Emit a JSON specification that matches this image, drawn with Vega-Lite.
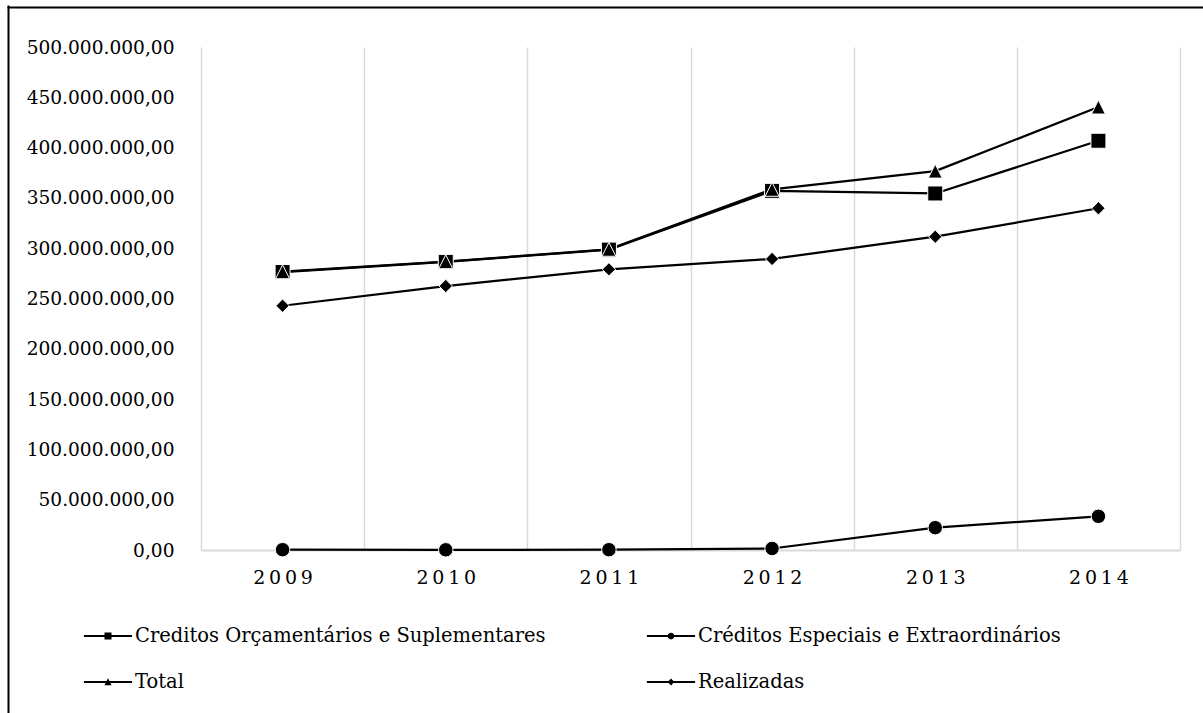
{
  "$schema": "https://vega.github.io/schema/vega-lite/v6.json",
  "width": 979,
  "height": 503,
  "autosize": {"type": "none"},
  "padding": {"left": 201, "top": 47, "right": 23, "bottom": 163},
  "background": "white",
  "config": {
    "font": "DejaVu Serif",
    "view": {"stroke": null},
    "locale": {
      "number": {"decimal": ",", "thousands": ".", "grouping": [3], "currency": ["R$ ", ""]}
    }
  },
  "data": {
    "values": [
      {"ano": "2009", "serie": "Creditos Orçamentários e Suplementares", "valor": 276300000},
      {"ano": "2010", "serie": "Creditos Orçamentários e Suplementares", "valor": 286400000},
      {"ano": "2011", "serie": "Creditos Orçamentários e Suplementares", "valor": 298600000},
      {"ano": "2012", "serie": "Creditos Orçamentários e Suplementares", "valor": 357000000},
      {"ano": "2013", "serie": "Creditos Orçamentários e Suplementares", "valor": 354400000},
      {"ano": "2014", "serie": "Creditos Orçamentários e Suplementares", "valor": 406800000},
      {"ano": "2009", "serie": "Créditos Especiais e Extraordinários", "valor": 300000},
      {"ano": "2010", "serie": "Créditos Especiais e Extraordinários", "valor": 200000},
      {"ano": "2011", "serie": "Créditos Especiais e Extraordinários", "valor": 300000},
      {"ano": "2012", "serie": "Créditos Especiais e Extraordinários", "valor": 1500000},
      {"ano": "2013", "serie": "Créditos Especiais e Extraordinários", "valor": 22200000},
      {"ano": "2014", "serie": "Créditos Especiais e Extraordinários", "valor": 33500000},
      {"ano": "2009", "serie": "Total", "valor": 276600000},
      {"ano": "2010", "serie": "Total", "valor": 286600000},
      {"ano": "2011", "serie": "Total", "valor": 298900000},
      {"ano": "2012", "serie": "Total", "valor": 358500000},
      {"ano": "2013", "serie": "Total", "valor": 376600000},
      {"ano": "2014", "serie": "Total", "valor": 440300000},
      {"ano": "2009", "serie": "Realizadas", "valor": 242800000},
      {"ano": "2010", "serie": "Realizadas", "valor": 262400000},
      {"ano": "2011", "serie": "Realizadas", "valor": 279000000},
      {"ano": "2012", "serie": "Realizadas", "valor": 289300000},
      {"ano": "2013", "serie": "Realizadas", "valor": 311400000},
      {"ano": "2014", "serie": "Realizadas", "valor": 339700000}
    ]
  },
  "layer": [
    {
      "layer": [
        {
          "mark": {"type": "line", "color": "black", "strokeWidth": 2.25, "strokeJoin": "round"},
          "encoding": {
            "x": {
              "field": "ano",
              "type": "ordinal",
              "bandPosition": 0.5,
              "scale": {"type": "band", "paddingInner": 0, "paddingOuter": 0},
              "axis": {
                "title": null,
                "labelAngle": 0,
                "tickBand": "extent",
                "grid": true,
                "gridColor": "#d9d9d9",
                "gridWidth": 1.5,
                "domain": true,
                "domainColor": "#d9d9d9",
                "domainWidth": 2,
                "ticks": false,
                "labelFont": "DejaVu Serif",
                "labelFontSize": 19,
                "labelPadding": 18,
                "labelColor": "black",
                "labelExpr": "join(split(datum.label, ''), '\u2009')"
              }
            },
            "y": {
              "field": "valor",
              "type": "quantitative",
              "scale": {"domain": [0, 500000000], "nice": false},
              "axis": {
                "title": null,
                "values": [0, 50000000, 100000000, 150000000, 200000000, 250000000, 300000000, 350000000, 400000000, 450000000, 500000000],
                "format": ",.2f",
                "domain": false,
                "ticks": false,
                "grid": false,
                "labelFont": "DejaVu Serif",
                "labelFontSize": 18.6,
                "labelLimit": 0,
                "labelPadding": 27,
                "labelColor": "black"
              }
            },
            "detail": {"field": "serie"}
          }
        },
        {
          "mark": {"type": "point", "filled": true, "fill": "black", "stroke": "white", "strokeWidth": 1, "opacity": 1},
          "encoding": {
            "x": {"field": "ano", "type": "ordinal", "bandPosition": 0.5},
            "y": {"field": "valor", "type": "quantitative"},
            "shape": {
              "field": "serie",
              "type": "nominal",
              "scale": {
                "domain": ["Creditos Orçamentários e Suplementares", "Créditos Especiais e Extraordinários", "Total", "Realizadas"],
                "range": ["square", "circle", "M0,-1L1,1L-1,1Z", "diamond"]
              },
              "legend": null
            },
            "size": {
              "field": "serie",
              "type": "nominal",
              "scale": {
                "domain": ["Creditos Orçamentários e Suplementares", "Créditos Especiais e Extraordinários", "Total", "Realizadas"],
                "range": [225, 177, 169, 182]
              },
              "legend": null
            }
          }
        }
      ]
    },
    {
      "mark": {"type": "point", "filled": true, "color": "black", "opacity": 0, "size": 2025},
      "encoding": {
        "shape": {
          "field": "serie",
          "type": "nominal",
          "scale": {
            "domain": ["Creditos Orçamentários e Suplementares", "Créditos Especiais e Extraordinários", "Total", "Realizadas"],
            "range": [
              "M-1.07,-0.044H1.07V0.044H-1.07ZM-0.156,-0.156H0.156V0.156H-0.156Z",
              "M-1.07,-0.044H1.07V0.044H-1.07ZM-0.15,0A0.15,0.15,0,1,1,0.15,0A0.15,0.15,0,1,1,-0.15,0Z",
              "M-1.07,-0.044H1.07V0.044H-1.07ZM0,-0.17L0.16,0.14H-0.16Z",
              "M-1.07,-0.044H1.07V0.044H-1.07ZM0,-0.16L0.15,0L0,0.16L-0.15,0Z"
            ]
          },
          "legend": {
            "orient": "none",
            "legendX": -115.5,
            "legendY": 566.5,
            "direction": "horizontal",
            "columns": 2,
            "columnPadding": 100,
            "rowPadding": 14,
            "padding": 0,
            "title": null,
            "symbolSize": 2025,
            "symbolStrokeWidth": 0,
            "symbolFillColor": "black",
            "symbolOpacity": 1,
            "labelFont": "DejaVu Serif",
            "labelFontSize": 19.5,
            "labelColor": "black",
            "labelOffset": 4.5,
            "labelLimit": 1000
          }
        }
      }
    },
    {
      "mark": {"type": "point", "opacity": 0},
      "encoding": {
        "x": {
          "datum": 0,
          "type": "quantitative",
          "scale": {"domain": [0, 1], "range": [-194, 1010]},
          "axis": {"orient": "top", "offset": 40, "domain": true, "domainColor": "black", "domainWidth": 2, "labels": false, "ticks": false, "grid": false, "title": null}
        },
        "y": {
          "datum": 0,
          "type": "quantitative",
          "scale": {"domain": [0, 1], "range": [672, -42]},
          "axis": {"orient": "left", "offset": 193, "domain": true, "domainColor": "black", "domainWidth": 2, "labels": false, "ticks": false, "grid": false, "title": null}
        }
      }
    }
  ],
  "resolve": {
    "scale": {"x": "independent", "y": "independent", "shape": "independent"},
    "axis": {"x": "independent", "y": "independent"}
  }
}
